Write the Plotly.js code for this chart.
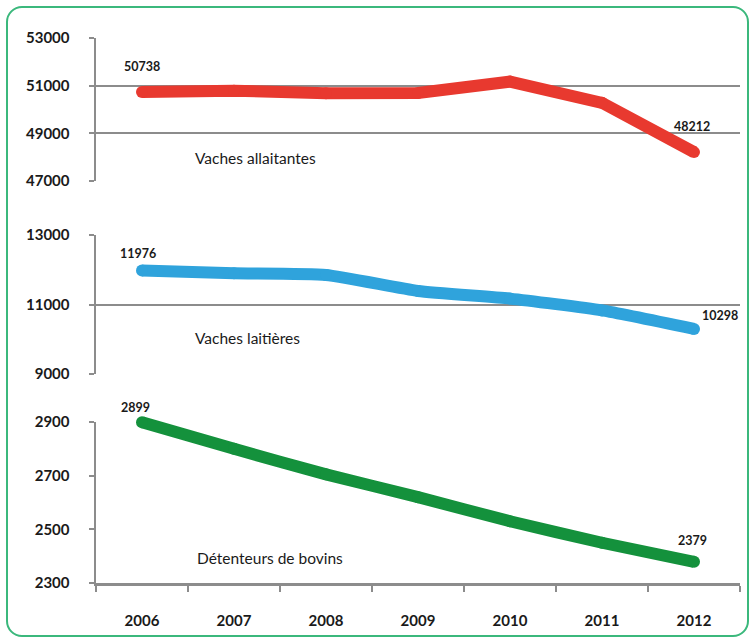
<!DOCTYPE html>
<html>
<head>
<meta charset="utf-8">
<script src="https://cdn.plot.ly/plotly-3.0.1.min.js"></script>
<style>
  html, body { margin: 0; padding: 0; background: #fff; }
  #wrap { position: relative; width: 751px; height: 641px; }
  #chart { width: 751px; height: 641px; }
  #frame { position: absolute; left: 6px; top: 6px; width: 739px; height: 627px;
           border: 2.5px solid #3bb87c; border-radius: 16px; pointer-events: none; }
</style>
</head>
<body>
<div id="wrap">
  <div id="chart"></div>
  <div id="frame"></div>
</div>
<script>
// ---- data ----
const years = ["2006", "2007", "2008", "2009", "2010", "2011", "2012"];
const vachesAllaitantes = [50738, 50790, 50680, 50690, 51170, 50280, 48212];
const vachesLaitieres   = [11976, 11900, 11850, 11390, 11170, 10830, 10298];
const detenteurs        = [2899, 2800, 2705, 2620, 2530, 2450, 2379];
const seriesNames = ["Vaches allaitantes", "Vaches laitières", "Détenteurs de bovins"];

const FONT = "Lato, 'Open Sans', sans-serif";
const gridC = "#8c8c8c";

function lineTrace(y, color, yaxis, shape) {
  return {
    x: years, y: y, xaxis: "x", yaxis: yaxis, type: "scatter", mode: "lines+markers",
    line: { color: color, width: 12, shape: shape, smoothing: 0.5 },
    marker: { color: color, size: 12, line: { width: 0 } },
    hoverinfo: "x+y", showlegend: false, cliponaxis: false
  };
}

// panel 3 visible axis: domain [0, d3], range [2300, 2900]
const d3top = 0.2954, d3ext = 0.33;
const r3 = [2300, 2900];
const r3ext = [r3[0], r3[0] + (r3[1] - r3[0]) * d3ext / d3top];

const data = [
  lineTrace(vachesAllaitantes, "#e8392f", "y", "linear"),
  lineTrace(vachesLaitieres, "#2fa3dc", "y2", "spline"),
  lineTrace(detenteurs, "#14913c", "y4", "spline")
];

function yax(domain, range, dtick) {
  return {
    domain: domain, range: range, dtick: dtick, tick0: range[0], tickformat: "d",
    showgrid: true, gridcolor: gridC, gridwidth: 2,
    showline: true, linecolor: gridC, linewidth: 2.5,
    ticks: "outside", ticklen: 5, tickwidth: 2, tickcolor: gridC,
    ticklabelstandoff: 16,
    tickfont: { family: FONT, size: 15, color: "#1a1a1a", weight: "bold" },
    zeroline: false, fixedrange: true, anchor: "x"
  };
}

const last = years.length - 1;
function lab(i, yarr, yref, dx, dy) {
  return {
    x: i, y: yarr[i], xref: "x", yref: yref, text: String(yarr[i]),
    showarrow: false, xshift: dx, yshift: dy,
    font: { family: FONT, size: 12.5, color: "#1a1a1a", weight: "bold" }
  };
}
function nameLab(x, y, yref, text) {
  return { x: x, y: y, xref: "x", yref: yref, text: text, showarrow: false,
           font: { family: FONT, size: 15.5, color: "#1a1a1a" } };
}

const layout = {
  width: 751, height: 641,
  margin: { l: 96, r: 11, t: 38, b: 58 },
  paper_bgcolor: "#ffffff", plot_bgcolor: "#ffffff",
  showlegend: false,
  xaxis: {
    type: "category", range: [-0.5, 6.5], anchor: "y3",
    showgrid: false, showline: true, linecolor: gridC, linewidth: 2.5,
    ticks: "outside", tickson: "boundaries", ticklen: 6, tickwidth: 2, tickcolor: gridC,
    ticklabelstandoff: 22,
    tickfont: { family: FONT, size: 15, color: "#1a1a1a", weight: "bold" },
    fixedrange: true
  },
  yaxis:  yax([0.7376, 1.0], [47000, 53000], 2000),
  yaxis2: yax([0.3835, 0.6385], [9000, 13000], 2000),
  yaxis3: yax([0.0, d3top], r3, 200),
  yaxis4: { domain: [0.0, d3ext], range: r3ext, visible: false, anchor: "x", fixedrange: true },
  annotations: [
    lab(0, vachesAllaitantes, "y", 0, 25),
    lab(last, vachesAllaitantes, "y", -2, 26),
    lab(0, vachesLaitieres, "y2", -4, 17),
    lab(last, vachesLaitieres, "y2", 26, 13),
    lab(0, detenteurs, "y3", -7, 15),
    lab(last, detenteurs, "y3", -2, 21),
    nameLab(1.23, 47968, "y", seriesNames[0]),
    nameLab(1.15, 10036, "y2", seriesNames[1]),
    nameLab(1.39, 2395, "y3", seriesNames[2])
  ]
};

Plotly.newPlot("chart", data, layout, { displayModeBar: false, staticPlot: true });
</script>
</body>
</html>
